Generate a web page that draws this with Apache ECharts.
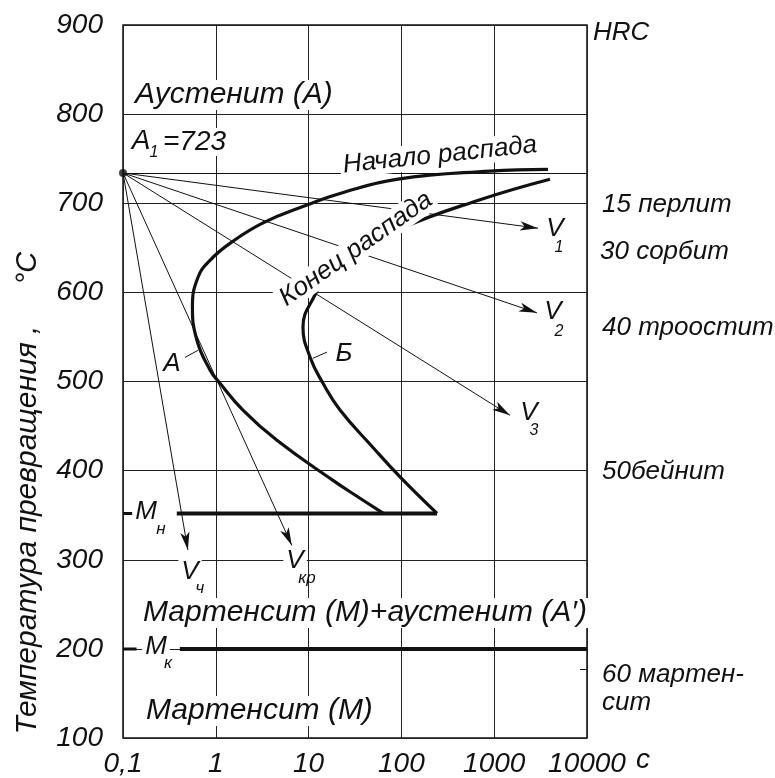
<!DOCTYPE html>
<html>
<head>
<meta charset="utf-8">
<script src="https://cdn.jsdelivr.net/npm/echarts@6/dist/echarts.min.js"></script>
<style>
html, body { margin: 0; background: #fff; }
#chart { width: 775px; height: 778px; }
</style>
</head>
<body>
<div id="chart"></div>
<script>
// ось времени (логарифмическая), с
var timeTicks = [0.1, 1, 10, 100, 1000, 10000];
var timeLabels = ['0,1', '1', '10', '100', '1000', '10000'];

// начало распада аустенита
var startTime = [3800, 900, 92, 21.8, 9.6, 3.23, 1.42, 0.866, 0.643, 0.56, 0.627, 0.866, 1.11, 1.96, 4.56, 18.3, 35.8, 64];
var startTemp = [738, 736, 727, 711, 698, 678, 655, 636, 617, 584, 546, 513, 498, 468, 434, 389, 369, 352];

// конец распада
var endTime = [3990, 703, 90, 26, 17, 11.7, 8.7, 10.4, 14.3, 21.8, 49.4, 96.6, 242];
var endTemp = [727, 704, 670, 639, 623, 597, 561, 527, 498, 468, 426, 393, 352];

// A1, Мн, Мк
var a1Temp = 734;
var msTemp = 352, msFrom = 0.38, msTo = 242;
var mfTemp = 200, mfFrom = 0.41;

// скорости охлаждения (концы лучей из точки A1)
var rayTime = [2965, 2890, 1480, 6.6, 0.50];
var rayTemp = [672, 577, 462, 316, 311];

// выноски A и Б, риска шкалы HRC
var leaderA = [[0.466, 527], [0.643, 535]];
var leaderB = [[11.1, 526], [15.8, 533]];
var hrcTick = [[8400, 177], [10000, 177]];

var FONT = 'Liberation Sans';
var INK = '#111';

function zip(xs, ys) {
  return xs.map(function (x, i) { return [x, ys[i]]; });
}

function txt(s, x, y, size, o) {
  o = o || {};
  return {
    type: 'text', x: x, y: y, z: 100,
    rotation: (o.rot || 0) * Math.PI / 180,
    style: {
      text: s, fontSize: size, fontStyle: 'italic', fontFamily: FONT, fill: INK,
      align: o.align || 'center', verticalAlign: 'middle',
      backgroundColor: o.bg ? '#fff' : 'transparent',
      padding: o.bg ? [0, 3] : 0
    }
  };
}

var rays = rayTime.map(function (t, i) {
  return [
    { coord: [0.1, a1Temp], symbol: 'none' },
    { coord: [t, rayTemp[i]], symbol: 'arrow', symbolSize: [7, 18] }
  ];
});

function seg(p) {
  return [{ coord: p[0] }, { coord: p[1] }];
}

function thick(data, w) {
  return {
    type: 'line', data: data, symbol: 'none', silent: true,
    lineStyle: { color: INK, width: w }, z: 5
  };
}

var myChart = echarts.init(document.getElementById('chart'));

var option = {
  backgroundColor: '#fff',
  animation: false,
  grid: { left: 123, right: 188, top: 25, bottom: 40, show: true, borderColor: INK, borderWidth: 1.5 },
  xAxis: {
    type: 'log', logBase: 10, min: 0.1, max: 10000,
    axisLine: { show: false }, axisTick: { show: false },
    splitLine: { show: true, lineStyle: { color: '#222', width: 1 } },
    axisLabel: {
      margin: 12, fontSize: 28, fontStyle: 'italic', fontFamily: FONT, color: INK,
      formatter: function (v) { return timeLabels[Math.round(Math.log10(v)) + 1]; }
    }
  },
  yAxis: {
    type: 'value', min: 100, max: 900, interval: 100,
    axisLine: { show: false }, axisTick: { show: false },
    splitLine: { show: true, lineStyle: { color: '#222', width: 1 } },
    axisLabel: { margin: 20, fontSize: 28, fontStyle: 'italic', fontFamily: FONT, color: INK }
  },
  series: [
    {
      name: 'Начало распада', type: 'line', smooth: 0.45, symbol: 'none', silent: true,
      data: zip(startTime, startTemp), lineStyle: { color: INK, width: 3.2 }, z: 6
    },
    {
      name: 'Конец распада', type: 'line', smooth: 0.45, symbol: 'none', silent: true,
      data: zip(endTime, endTemp), lineStyle: { color: INK, width: 3.2 }, z: 6
    },
    thick([[msFrom, msTemp], [msTo, msTemp]], 4),
    thick([[0.1, msTemp], [0.132, msTemp]], 3),
    thick([[mfFrom, mfTemp], [10000, mfTemp]], 4),
    thick([[0.1, mfTemp], [0.14, mfTemp]], 3),
    {
      type: 'scatter', data: [[0.1, a1Temp]], symbolSize: 8, clip: false, silent: true,
      itemStyle: { color: INK }, z: 7,
      markLine: {
        silent: true, animation: false,
        label: { show: false },
        lineStyle: { color: INK, width: 1, type: 'solid' },
        emphasis: { disabled: true },
        data: rays
      }
    },
    {
      type: 'line', data: [], silent: true,
      markLine: {
        silent: true, animation: false, symbol: 'none',
        label: { show: false },
        lineStyle: { color: INK, width: 1, type: 'solid' },
        emphasis: { disabled: true },
        data: [
          [{ coord: [0.1, a1Temp] }, { coord: [10000, a1Temp] }],
          seg(leaderA), seg(leaderB), seg(hrcTick)
        ]
      }
    }
  ],
  graphic: [
    txt('Аустенит (А)', 132, 95, 30, { align: 'left', bg: true }),
    txt('А', 141, 141, 28, { bg: true }),
    txt('1', 154, 153, 16),
    txt('=723', 160, 142, 28, { align: 'left', bg: true }),
    txt('Начало распада', 440, 155, 26, { rot: 6, bg: true }),
    txt('Конец распада', 356, 249, 26, { rot: 35, bg: true }),
    txt('А', 172, 364, 26),
    txt('Б', 344, 354, 26),
    txt('V', 555, 229, 26), txt('1', 559, 248, 16),
    txt('V', 553, 312, 26), txt('2', 559, 332, 16),
    txt('V', 529, 413, 26), txt('3', 534, 431, 16),
    txt('V', 190, 572, 26, { bg: true }), txt('ч', 200, 588, 17),
    txt('V', 295, 561, 26, { bg: true }), txt('кр', 307, 578, 17),
    txt('M', 146, 512, 26, { bg: true }), txt('н', 161, 529, 17),
    txt('M', 156, 647, 26, { bg: true }), txt('к', 168, 663, 17),
    txt('Мартенсит (М)+аустенит (А′)', 140, 613, 30, { align: 'left', bg: true }),
    txt('Мартенсит (М)', 143, 711, 30, { align: 'left', bg: true }),
    txt('HRC', 593, 33, 26, { align: 'left' }),
    txt('15 перлит', 602, 205, 26, { align: 'left' }),
    txt('30 сорбит', 600, 252, 26, { align: 'left' }),
    txt('40 троостит', 602, 328, 26, { align: 'left' }),
    txt('50бейнит', 602, 472, 26, { align: 'left' }),
    txt('60 мартен-', 602, 675, 26, { align: 'left' }),
    txt('сит', 602, 703, 26, { align: 'left' }),
    txt('с', 643, 760, 28),
    txt('Температура превращения ,', 28, 530, 30, { rot: 90 }),
    txt('°С', 28, 268, 29, { rot: 90 })
  ]
};

myChart.setOption(option);
</script>
</body>
</html>
